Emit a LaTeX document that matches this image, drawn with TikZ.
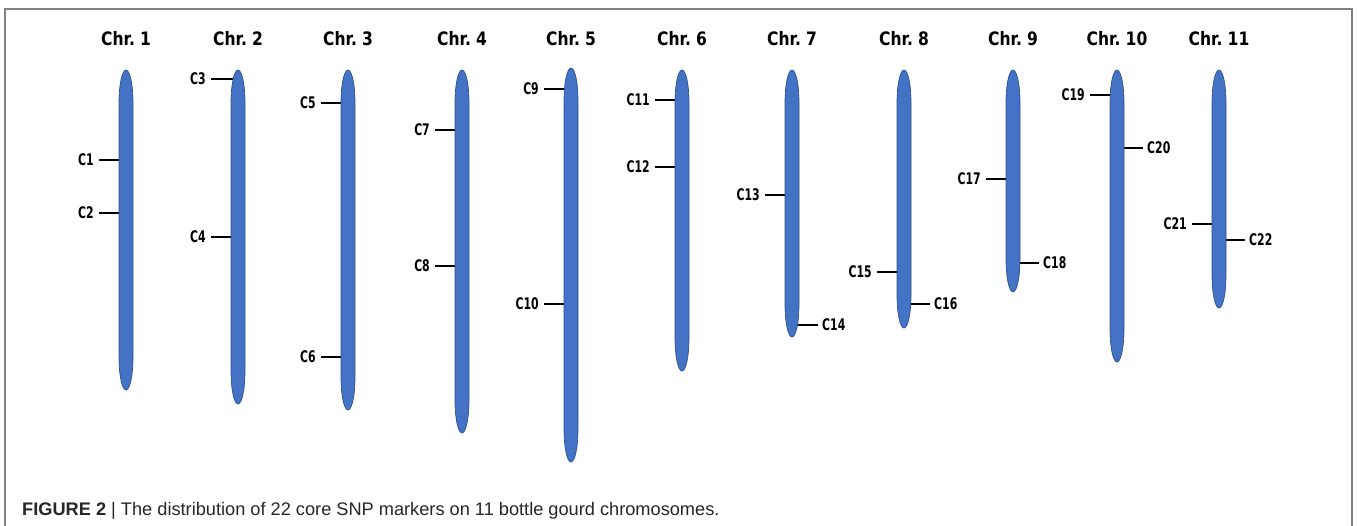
\documentclass[tikz,border=0pt]{standalone}
\usepackage{fontspec}
\usepackage{graphicx}
\setmainfont{Liberation Sans}
\newfontfamily\chrfont{DejaVu Sans}
\usetikzlibrary{calc}
\definecolor{chrfill}{HTML}{4472C4}
\definecolor{chredge}{HTML}{2F528F}
\definecolor{framegray}{HTML}{808080}
\newcommand{\narrowtitle}[1]{\scalebox{0.84}[1]{\chrfont\bfseries\fontsize{18.5}{19}\selectfont #1}}
\newcommand{\narrowlab}[1]{\scalebox{0.68}[1]{\chrfont\bfseries\fontsize{16}{17}\selectfont #1}}
\tikzset{
  chrtitle/.style={inner sep=0pt, anchor=base},
  lab/.style={inner sep=0pt},
  tick/.style={line width=2.7pt, black},
  chrbody/.style={fill=chrfill, draw=chredge, line width=0.7pt},
  caption/.style={font=\fontsize{18.2}{20}\selectfont, inner sep=0pt, anchor=base west, text=black!85}
}
\begin{document}
\begin{tikzpicture}[x=1pt,y=-1pt]
\useasboundingbox (0,0) rectangle (1357,525);
% outer frame (runs past the lower edge)
\begin{scope}
  \clip (0,0) rectangle (1357,525);
  \draw[framegray, line width=1.8pt] (5,540) -- (5,9) -- (1352,9) -- (1352,540);
\end{scope}
% chromosome axes and titles
\foreach \i/\cx in {1/126,2/238,3/348,4/462,5/571,6/682,7/792,8/904,9/1013,10/1117,11/1219}{
  \coordinate (chr\i) at (\cx,0);
  \node[chrtitle] (T\i) at (\cx,45) {\narrowtitle{Chr.\,\,\i}};
}
% markers on the left side
\foreach \n/\i/\y in {1/1/160,2/1/213,3/2/79,4/2/237,5/3/103,6/3/357,7/4/130,8/4/266,
                      9/5/89,10/5/304,11/6/100,12/6/167,13/7/195,15/8/272,17/9/179,
                      19/10/95,21/11/224}{
  \node[lab, anchor=east] (C\n) at ($(chr\i)+(-32,\y)$) {\narrowlab{C\n}};
  \draw[tick] ([xshift=5pt]C\n.east) -- (chr\i |- C\n);
}
% markers on the right side
\foreach \n/\i/\y in {14/7/325,16/8/304,18/9/263,20/10/148,22/11/240}{
  \node[lab, anchor=west] (C\n) at ($(chr\i)+(30,\y)$) {\narrowlab{C\n}};
  \draw[tick] (chr\i |- C\n) -- ([xshift=-4pt]C\n.west);
}
% chromosome bodies
\foreach \i/\t/\b in {1/70/390,2/70/404,3/70/410,4/70/433,5/68/462,6/70/371,
                      7/70/337,8/70/328,9/70/292,10/70/362,11/70/308}{
  \path[chrbody]
    ($(chr\i)+(0,\t)$) .. controls ($(chr\i)+(3.5,\t)$) and ($(chr\i)+(7,\t+12)$) .. ($(chr\i)+(7,\t+34)$)
    -- ($(chr\i)+(7,\b-34)$)
    .. controls ($(chr\i)+(7,\b-12)$) and ($(chr\i)+(3.5,\b)$) .. ($(chr\i)+(0,\b)$)
    .. controls ($(chr\i)+(-3.5,\b)$) and ($(chr\i)+(-7,\b-12)$) .. ($(chr\i)+(-7,\b-34)$)
    -- ($(chr\i)+(-7,\t+34)$)
    .. controls ($(chr\i)+(-7,\t+12)$) and ($(chr\i)+(-3.5,\t)$) .. cycle;
}
% caption
\node[caption] (cap) at (22,515) {\textbf{FIGURE 2} | The distribution of 22 core SNP markers on 11 bottle gourd chromosomes.};
\end{tikzpicture}
\end{document}
